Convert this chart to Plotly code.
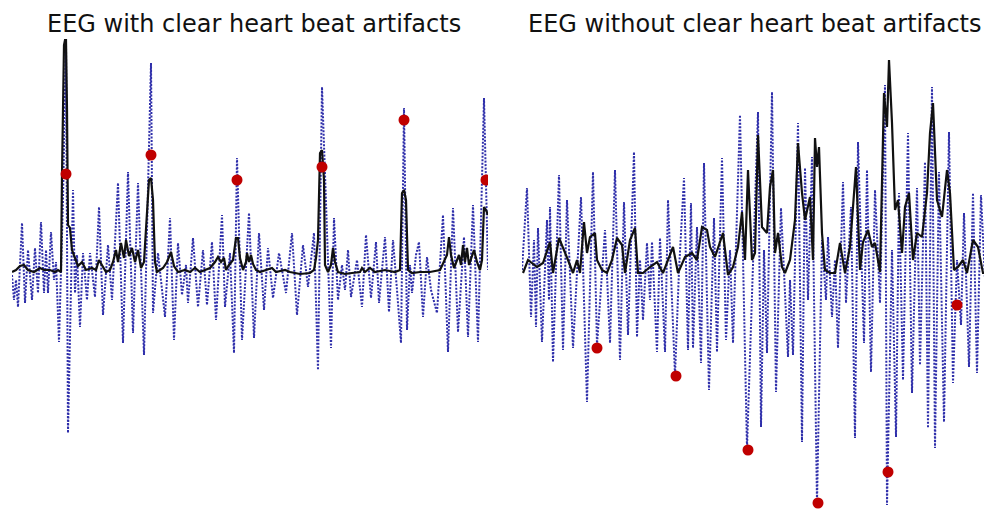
import plotly.graph_objects as go

# The page adds an 8px body margin, so the figure is drawn 8px smaller and
# all layout positions are expressed relative to that offset.
OFF = 8
W, H = 992 - OFF, 510 - OFF

# ---------------- Left panel: EEG with clear heart beat artifacts ----------------
# time (sample position) and amplitude (relative to baseline)
left_eeg_t = [12, 14, 16, 18, 22, 25, 28, 32, 35, 38, 41, 44, 46, 48, 51, 54, 56, 59, 63, 66,
              68, 71, 73, 75, 77, 80, 83, 87, 90, 95, 99, 103, 108, 112, 118, 123, 128, 133, 138, 144,
              151, 153, 158, 165, 170, 174, 178, 182, 186, 188, 193, 198, 203, 207, 212, 216, 222, 225, 230, 234,
              237, 242, 249, 254, 259, 264, 268, 273, 279, 286, 292, 297, 303, 308, 314, 318, 322, 331, 334, 338,
              342, 345, 348, 351, 357, 362, 366, 371, 376, 379, 385, 389, 393, 397, 401, 404, 407, 410, 412, 416,
              419, 423, 427, 431, 437, 443, 448, 453, 458, 464, 468, 473, 478, 484, 488]
left_eeg_y = [-3, -28, -8, -35, 49, -31, 22, -28, 24, -21, 50, -21, 22, -21, 40, -8, 10, -70, 72, 232,
              -161, -28, 82, -21, 17, -55, 19, -28, 19, -25, 65, -43, 27, -28, 89, -71, 100, -61, 89, -83,
              209, -41, 19, -45, 54, -68, 29, -23, 7, -31, 34, -35, 22, -33, 30, -48, 57, -35, 19, -81,
              114, -68, 59, -66, 39, -38, 24, -26, 19, -21, 39, -43, 27, -15, 39, -98, 185, -76, 54, -28,
              7, -18, 22, -25, 12, -35, 37, -26, 30, -31, 35, -40, 32, -18, -71, 164, -58, 7, -21, 17,
              30, -45, 15, -18, -41, 57, -80, 64, -60, 35, -65, 67, -70, 174, 2]

left_env_t = [12, 16, 20, 24, 28, 34, 40, 44, 50, 55, 58, 61, 62, 64, 65, 66, 67, 68, 70, 72,
              75, 78, 82, 86, 92, 96, 99, 102, 106, 110, 113, 116, 118, 121, 124, 126, 129, 132, 135, 138,
              141, 144, 147, 149, 151, 153, 155, 157, 160, 163, 167, 171, 174, 178, 185, 190, 195, 200, 205, 210,
              215, 218, 221, 224, 226, 229, 233, 236, 238, 240, 243, 246, 247, 249, 251, 253, 256, 260, 266, 272,
              276, 285, 290, 300, 310, 314, 316, 318, 320, 322, 324, 325, 328, 331, 333, 335, 338, 345, 352, 360,
              362, 365, 370, 375, 385, 395, 400, 402, 404, 406, 408, 412, 420, 430, 440, 444, 447, 449, 451, 454,
              456, 459, 461, 463, 465, 467, 469, 472, 474, 477, 480, 482, 484, 486, 488]
left_env_y = [0, 2, 6, 7, 2, 0, 4, 2, 2, 0, 2, 0, 97, 227, 232, 232, 162, 47, 44, 22,
              14, 6, 10, 2, 4, 2, 12, 7, 0, 2, 10, 22, 10, 29, 14, 32, 16, 24, 10, 22,
              4, 10, 57, 92, 94, 72, 10, 0, 2, 4, 10, 20, 6, 0, 2, 0, 4, 0, 2, 4,
              10, 15, 10, 14, 2, 7, 12, 34, 34, 14, 2, 10, 19, 10, 17, 8, 2, 0, 2, 4,
              0, 2, 0, -2, -1, 2, 14, 32, 119, 122, 92, 7, 0, 7, 24, 10, 0, -2, -1, 0,
              4, 0, 4, 0, 2, 0, 2, 79, 82, 72, 2, -1, 0, 0, 2, 10, 17, 35, 17, 4,
              10, 17, 7, 27, 10, 24, 7, 17, 22, 10, 2, 12, 65, 62, 57]

left_beat_t = [66, 151, 237, 322, 404, 486]
left_beat_y = [98, 117, 92, 105, 152, 92]

# ---------------- Right panel: EEG without clear heart beat artifacts ----------------
right_eeg_t = [522, 527, 531, 534, 536, 538, 542, 547, 549, 550, 553, 559, 563, 567, 573, 581, 587, 593, 597, 605,
               610, 615, 620, 624, 628, 634, 637, 640, 643, 647, 650, 652, 657, 660, 665, 668, 675, 679, 684, 688,
               691, 693, 697, 701, 704, 709, 714, 717, 722, 726, 730, 733, 740, 747, 758, 761, 764, 767, 772, 776,
               781, 788, 790, 793, 798, 802, 805, 808, 812, 817, 822, 826, 828, 832, 835, 838, 843, 846, 851, 855,
               858, 864, 867, 871, 875, 880, 885, 887, 892, 896, 899, 903, 908, 912, 917, 920, 925, 928, 932, 935,
               939, 944, 949, 953, 957, 961, 964, 969, 973, 977, 981, 985, 990]
right_eeg_y = [-2, 80, -49, 28, -59, 40, -74, 48, -32, 61, -94, 93, -82, 68, -80, 71, -134, 96, -77, 38,
               -75, 98, -92, 66, -67, 116, -69, 8, -52, 25, -32, 26, -84, 30, -84, 68, -107, -2, 90, -82,
               65, -80, 41, -95, 105, -122, 50, -84, 110, -72, 18, -75, 153, -180, 156, -159, 18, -85, 176, -124,
               60, -89, -12, -87, 145, -174, 100, -32, 111, -235, 28, -32, 31, -49, 8, -80, 86, -35, 61, -170,
               126, -75, 98, -104, 78, -35, 183, -237, 18, -169, 75, -112, 135, -125, 80, -97, 106, -160, 181, -180,
               96, -154, 136, -115, 8, -57, 55, -99, 75, -105, 73, -12, -22]

right_env_t = [523, 528, 537, 543, 550, 553, 559, 563, 568, 573, 577, 580, 584, 587, 590, 595, 597, 602, 607, 612,
               617, 622, 625, 630, 635, 638, 643, 650, 657, 663, 668, 673, 678, 685, 692, 697, 702, 707, 710, 715,
               723, 728, 733, 738, 742, 745, 748, 752, 755, 758, 762, 767, 770, 773, 775, 778, 782, 785, 790, 795,
               798, 802, 805, 810, 813, 815, 817, 819, 822, 825, 830, 835, 840, 845, 850, 856, 860, 863, 868, 872,
               875, 880, 884, 887, 889, 892, 895, 898, 902, 905, 909, 913, 917, 922, 927, 930, 933, 937, 942, 947,
               950, 954, 958, 963, 967, 973, 978, 983, 990]
right_env_y = [-5, 8, 1, 5, 26, -5, 30, 21, 8, -5, 8, -5, 46, 15, 31, 35, 8, -2, -5, 8,
               30, 23, -5, 28, 40, -5, -5, 1, 6, -5, 8, 21, -5, 11, 15, 8, 41, 38, 21, 11,
               35, -7, 1, 21, 56, 8, 98, 8, 15, 133, 41, 35, 81, 98, 15, 35, 1, -5, 8, 48,
               125, 75, 48, 71, 8, 130, 101, 121, 35, -2, -5, -5, 25, -5, 21, 101, -2, 26, 38, 21,
               25, -4, 175, 141, 208, 145, 58, 68, 15, 61, 75, 8, 35, 31, 75, 135, 165, 68, 51, 98,
               75, -2, 1, 8, -5, 28, 21, -5, -5]

right_beat_t = [597, 676, 748, 818, 888, 957]
right_beat_y = [-80, -108, -182, -235, -204, -37]

titles = ["EEG with clear heart beat artifacts", "EEG without clear heart beat artifacts"]

BLUE = "#2e2eaa"
RED = "#c00000"

fig = go.Figure()

def add_panel(t, eeg_t, eeg_y, env_t, env_y, beat_t, beat_y, xa, ya):
    fig.add_trace(go.Scatter(x=[v - t for v in eeg_t], y=eeg_y, mode="lines",
                             line=dict(color=BLUE, width=2, dash="2px,1.5px"),
                             xaxis=xa, yaxis=ya, hoverinfo="skip"))
    fig.add_trace(go.Scatter(x=[v - t for v in env_t], y=env_y, mode="lines",
                             line=dict(color="#111111", width=2.2),
                             xaxis=xa, yaxis=ya, hoverinfo="skip"))
    fig.add_trace(go.Scatter(x=[v - t for v in beat_t], y=beat_y, mode="markers",
                             marker=dict(color=RED, size=11),
                             xaxis=xa, yaxis=ya, hoverinfo="skip"))

add_panel(12, left_eeg_t, left_eeg_y, left_env_t, left_env_y, left_beat_t, left_beat_y, "x", "y")
add_panel(522, right_eeg_t, right_eeg_y, right_env_t, right_env_y, right_beat_t, right_beat_y, "x2", "y2")

def px_x(p):
    return (p - OFF) / W

def px_y(p):
    return 1 - (p - OFF) / H

hidden = dict(visible=False, showgrid=False, zeroline=False, fixedrange=True)
fig.update_layout(
    width=W, height=H,
    margin=dict(l=0, r=0, t=0, b=0),
    paper_bgcolor="white", plot_bgcolor="rgba(0,0,0,0)",
    showlegend=False,
    xaxis=dict(domain=[px_x(12), px_x(488)], range=[0, 476], **hidden),
    yaxis=dict(domain=[0, 1], range=[-238, 264], **hidden),
    xaxis2=dict(domain=[px_x(522), 1], range=[0, 470], anchor="y2", **hidden),
    yaxis2=dict(domain=[0, 1], range=[-242, 260], anchor="x2", **hidden),
    annotations=[
        dict(text=titles[0], x=px_x(253.5), y=px_y(24), xref="paper", yref="paper",
             xanchor="center", yanchor="middle", showarrow=False,
             font=dict(family="DejaVu Sans", size=24, color="#111111")),
        dict(text=titles[1], x=px_x(755), y=px_y(24), xref="paper", yref="paper",
             xanchor="center", yanchor="middle", showarrow=False,
             font=dict(family="DejaVu Sans", size=24, color="#111111")),
    ],
)

fig.write_html("out.html")
